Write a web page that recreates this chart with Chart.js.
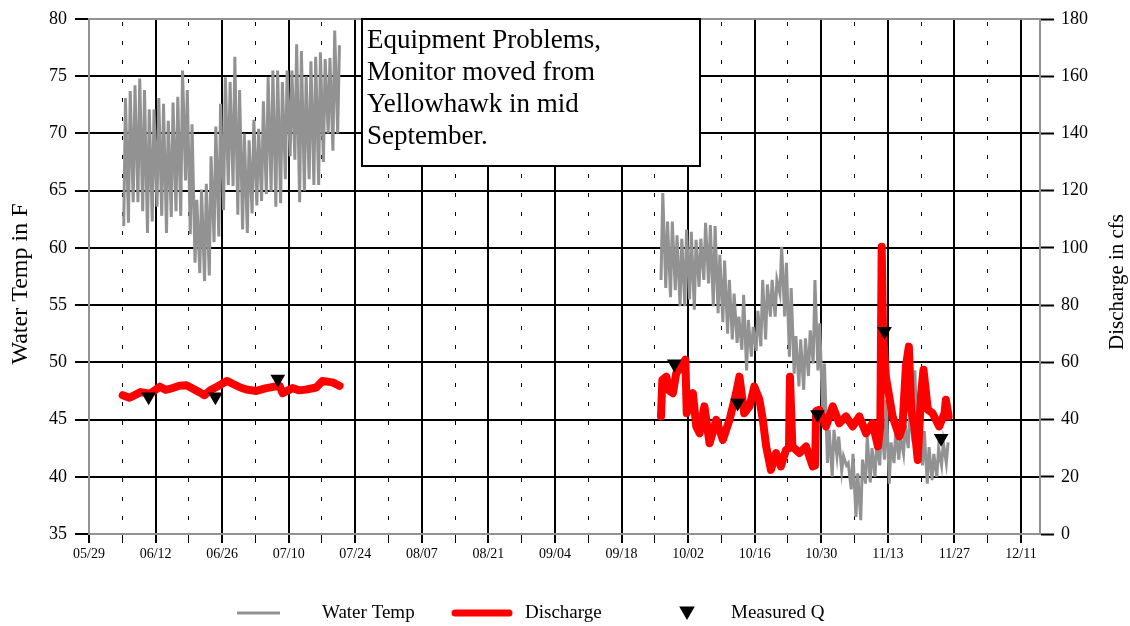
<!DOCTYPE html>
<html>
<head>
<meta charset="utf-8">
<script src="https://cdn.jsdelivr.net/npm/chart.js@4.4.0/dist/chart.umd.min.js"></script>
<style>
  html, body { margin: 0; padding: 0; background: #fff; }
</style>
</head>
<body>
<canvas id="myChart" width="1130" height="626"></canvas>
<script>
// x axis: labelled every 14 days, dotted line half way between
const xTickLabels = ['05/29', '06/12', '06/26', '07/10', '07/24', '08/07', '08/21', '09/04', '09/18', '10/02', '10/16', '10/30', '11/13', '11/27', '12/11'];
const xAxisEnd = '12/15';

// water temp (F), daily low / high
const tempStart1 = '06/05';
const tempHigh1 = [73.1, 73.7, 74.2, 74.8, 73.8, 72.1, 72.1, 73.1, 72.6, 71.1, 72.7, 73.2, 75.5, 73.8, 70.8, 64.2, 65.1, 65.6, 68.0, 70.6, 72.6, 74.9, 74.5, 76.7, 73.8, 70.0, 69.4, 71.2, 70.4, 72.8, 74.9, 75.5, 75.5, 74.5, 75.5, 75.5, 77.8, 77.2, 75.0, 76.3, 76.7, 77.1, 76.5, 76.6, 79.0, 77.7];
const tempLow1 = [61.9, 62.2, 64.0, 64.0, 63.2, 61.3, 62.3, 63.6, 62.8, 61.3, 62.7, 63.2, 62.8, 65.9, 61.2, 58.7, 57.8, 57.1, 57.6, 60.5, 61.0, 63.3, 65.5, 65.4, 62.9, 61.6, 61.3, 63.0, 63.7, 64.1, 64.7, 64.9, 63.6, 63.9, 66.0, 68.0, 67.7, 64.0, 65.0, 66.0, 65.5, 65.5, 67.5, 70.0, 68.5, 70.0];

const tempStart2 = '09/26';
const tempHigh2 = [64.8, 62.3, 62.3, 61.1, 60.8,
  61.6, 61.4, 60.7, 60.8, 62.2, 62.0, 61.9, 59.4, 58.9, 57.2, 56.0, 54.0, 55.9, 53.7, 53.1, 54.5, 57.2, 56.8, 57.2, 57.2, 60.1, 58.7, 56.5, 52.3, 52.0, 52.1, 52.8, 57.2, 53.4, 49.9, 44.1,
  44.1, 43.5, 41.8, 41.2, 42.0, 40.3, 41.5, 43.5, 42.5, 43.0, 44.5, 46.7, 43.0, 44.0, 43.5, 44.5, 46.0, 49.3, 45.0, 44.0, 42.6, 42.0, 42.5, 43.0, 43.0];
const tempLow2 = [57.2, 56.5, 55.7, 56.3, 54.9,
  54.9, 55.5, 54.6, 56.6, 57.2, 56.9, 54.9, 54.3, 53.5, 52.5, 52.0, 51.7, 51.1, 49.3, 50.5, 51.0, 51.4, 52.0, 54.0, 54.0, 56.0, 54.0, 50.5, 49.0, 47.9, 47.6, 48.8, 49.9, 49.3, 45.6, 41.2,
  40.0, 41.8, 40.5, 41.0, 38.9, 36.5, 36.2, 39.4, 39.5, 40.0, 41.0, 41.5, 39.4, 41.2, 41.5, 42.0, 42.5, 43.0, 41.6, 41.0, 39.4, 39.7, 40.0, 41.0, 41.2];

// discharge (cfs), 'MM/DD HH'
const dischargeDates1 = ['06/05 02', '06/06 12', '06/07 05', '06/08 20', '06/10 19', '06/12 22', '06/14 02', '06/15 14', '06/17 00', '06/18 12', '06/21 07', '06/22 07', '06/23 12', '06/24 22', '06/27 00', '06/28 05', '06/29 20', '07/01 02', '07/03 05', '07/05 07', '07/08 02', '07/08 17', '07/10 19', '07/12 04', '07/13 17', '07/15 19', '07/17 02', '07/19 05', '07/20 17'];
const dischargeCfs1 = [48.5, 47.6, 48.2, 49.6, 49, 51.5, 50.4, 51, 51.8, 52, 49.5, 48.5, 50.2, 51.5, 53.5, 52.5, 51.2, 50.5, 50, 51, 51.8, 49.2, 51, 50.2, 50.5, 51.2, 53.5, 53, 51.8];

const dischargeDates2 = ['09/26 07', '09/26 14', '09/27 10', '09/28 02', '09/28 19', '09/29 12', '09/30 12', '10/01 10', '10/01 17', '10/02 07', '10/03 00', '10/03 17', '10/04 10', '10/05 10', '10/06 12', '10/07 22', '10/09 07', '10/10 17', '10/12 02', '10/12 19', '10/13 19', '10/14 22', '10/15 22', '10/17 00', '10/17 17', '10/18 10', '10/19 10', '10/20 12', '10/21 12', '10/22 14', '10/23 05', '10/23 10', '10/23 22', '10/25 10', '10/26 19', '10/28 05', '10/28 17', '10/28 22', '10/29 14', '10/31 00', '11/01 10', '11/02 19', '11/04 05', '11/05 14', '11/07 00', '11/08 10', '11/09 19', '11/10 22', '11/11 10', '11/11 17', '11/12 00', '11/12 14', '11/14 00', '11/15 10', '11/16 02', '11/16 19', '11/17 10', '11/17 22', '11/18 14', '11/19 07', '11/20 00', '11/20 12', '11/21 10', '11/22 10', '11/23 19', '11/24 22', '11/25 05', '11/25 19'];
const dischargeCfs2 = [41.1, 53.9, 55, 50, 49.2, 56.2, 58.5, 60.9, 42.2, 47, 49.2, 37.6, 35.2, 44.6, 31.7, 39.9, 32.9, 39.9, 49.2, 55, 42.2, 44.6, 51.5, 46.9, 39.9, 30.6, 22.4, 28.3, 23.6, 29.4, 30, 55, 30.6, 28.3, 30.6, 23.6, 24, 43, 43.4, 37.6, 44.6, 38.7, 41.1, 37.6, 41.1, 35.2, 38.7, 30.6, 37.6, 100.4, 70.2, 55, 41.1, 34.1, 37.6, 58.5, 65.5, 43.4, 37.6, 25.9, 49.2, 57.4, 43.4, 42.2, 37.6, 42.2, 46.9, 41.1];

// measured Q (cfs)
const measuredDates = ['06/10 13', '06/24 14', '07/07 17', '09/29 02', '10/12 10', '10/29 05', '11/12 07', '11/24 05'];
const measuredCfs = [48.0, 48.0, 54.2, 59.5, 45.8, 41.8, 70.9, 33.5];

const noteLines = ['Equipment Problems,', 'Monitor moved from', 'Yellowhawk in mid', 'September.'];

const YEAR = 2010;
const FONT = '"Liberation Serif", "Times New Roman", serif';
const GRAY = '#929292';

function dayOf(s) {
    const parts = s.split(' ');
    const md = parts[0].split('/').map(Number);
    const h = parts[1] ? Number(parts[1]) : 0;
    return (Date.UTC(YEAR, md[0] - 1, md[1], h) - Date.UTC(YEAR, 4, 29)) / 86400000;
}

function dailyCycle(start, lows, highs) {
    const d0 = dayOf(start);
    const pts = [];
    for (let i = 0; i < lows.length; i++) {
        pts.push({ x: d0 + i + 0.3, y: lows[i] });
        pts.push({ x: d0 + i + 0.67, y: highs[i] });
    }
    return pts;
}

function pairs(dates, vals) {
    return dates.map((d, i) => ({ x: dayOf(d), y: vals[i] }));
}

const gap = { x: dayOf('08/20'), y: null };
const tempData = dailyCycle(tempStart1, tempLow1, tempHigh1).concat([gap], dailyCycle(tempStart2, tempLow2, tempHigh2));
const dischargeData = pairs(dischargeDates1, dischargeCfs1).concat([gap], pairs(dischargeDates2, dischargeCfs2));
const measuredData = pairs(measuredDates, measuredCfs);

const xMax = dayOf(xAxisEnd);
const labelAt = {};
xTickLabels.forEach(l => { labelAt[dayOf(l)] = l; });
const gridDays = [];
xTickLabels.forEach(l => {
    gridDays.push(dayOf(l));
    if (dayOf(l) + 7 <= xMax) gridDays.push(dayOf(l) + 7);
});
const isMajor = v => labelAt[v] !== undefined;

const overlay = {
    id: 'overlay',
    afterDraw(chart) {
        const ctx = chart.ctx;
        ctx.save();

        // note box
        ctx.fillStyle = '#fff';
        ctx.fillRect(362, 19, 338, 147);
        ctx.lineWidth = 2;
        ctx.strokeStyle = '#000';
        ctx.strokeRect(362, 19, 338, 147);
        ctx.fillStyle = '#000';
        ctx.font = '27px ' + FONT;
        ctx.textAlign = 'left';
        ctx.textBaseline = 'alphabetic';
        noteLines.forEach((t, i) => ctx.fillText(t, 367, 48 + i * 32));

        // axis titles, both read bottom to top
        ctx.textAlign = 'center';
        ctx.textBaseline = 'middle';
        ctx.save();
        ctx.font = '24px ' + FONT;
        ctx.translate(21, 284);
        ctx.rotate(-Math.PI / 2);
        ctx.fillText('Water Temp in F', 0, 0);
        ctx.restore();
        ctx.save();
        ctx.font = '21px ' + FONT;
        ctx.translate(1117, 282);
        ctx.rotate(-Math.PI / 2);
        ctx.fillText('Discharge in cfs', 0, 0);
        ctx.restore();

        // legend
        const ly = 613;
        ctx.lineCap = 'butt';
        ctx.strokeStyle = GRAY;
        ctx.lineWidth = 3;
        ctx.beginPath(); ctx.moveTo(237, ly); ctx.lineTo(280, ly); ctx.stroke();
        ctx.strokeStyle = '#ff0000';
        ctx.lineWidth = 7;
        ctx.lineCap = 'round';
        ctx.beginPath(); ctx.moveTo(455, ly); ctx.lineTo(509, ly); ctx.stroke();
        ctx.fillStyle = '#000';
        Chart.helpers.drawPoint(ctx, { pointStyle: 'triangle', rotation: 180, radius: 9, borderWidth: 0 }, 687, ly - 2);
        ctx.font = '19px ' + FONT;
        ctx.textAlign = 'left';
        ctx.fillText('Water Temp', 322, ly);
        ctx.fillText('Discharge', 525, ly);
        ctx.fillText('Measured Q', 731, ly);
        ctx.restore();
    }
};

new Chart('myChart', {
    type: 'line',
    data: {
        datasets: [{
            label: 'Water Temp',
            data: tempData,
            yAxisID: 'y',
            borderColor: GRAY,
            borderWidth: 3,
            pointRadius: 0,
            tension: 0,
            order: 3
        }, {
            label: 'Discharge',
            data: dischargeData,
            yAxisID: 'y2',
            borderColor: '#ff0000',
            borderWidth: 8,
            borderJoinStyle: 'round',
            borderCapStyle: 'round',
            pointRadius: 0,
            tension: 0,
            order: 2
        }, {
            label: 'Measured Q',
            data: measuredData,
            yAxisID: 'y2',
            showLine: false,
            pointStyle: 'triangle',
            rotation: 180,
            pointRadius: 8.5,
            pointBackgroundColor: '#000',
            pointBorderColor: '#000',
            pointBorderWidth: 0,
            order: 1
        }]
    },
    options: {
        responsive: false,
        animation: false,
        devicePixelRatio: 1,
        layout: { padding: { top: 19, left: 0, right: 0, bottom: 0 } },
        plugins: { legend: { display: false }, tooltip: { enabled: false } },
        scales: {
            x: {
                type: 'linear',
                min: 0,
                max: xMax,
                afterBuildTicks: s => { s.ticks = gridDays.map(v => ({ value: v })); },
                afterFit: s => { s.height = 92; },
                ticks: {
                    autoSkip: false,
                    maxRotation: 0,
                    padding: 3,
                    color: '#000',
                    font: { family: FONT, size: 14 },
                    callback: v => labelAt[v] || ''
                },
                grid: {
                    color: c => (c.tick && c.tick.value === 0) ? GRAY : '#000',
                    lineWidth: c => (c.tick && isMajor(c.tick.value)) ? 2 : 1,
                    tickLength: 9,
                    tickColor: '#000',
                    tickWidth: c => (c.tick && isMajor(c.tick.value)) ? 2 : 1
                },
                border: {
                    color: GRAY,
                    width: 2,
                    dash: c => (c.tick && !isMajor(c.tick.value)) ? [4, 15] : [],
                    dashOffset: 16
                }
            },
            y: {
                position: 'left',
                min: 35,
                max: 80,
                afterFit: s => { s.width = 89; },
                ticks: { stepSize: 5, padding: 8, color: '#000', font: { family: FONT, size: 18 } },
                grid: {
                    color: c => (c.tick && (c.tick.value === 35 || c.tick.value === 80)) ? GRAY : '#000',
                    lineWidth: 2,
                    tickLength: 14,
                    tickColor: '#000',
                    tickWidth: 2
                },
                border: { color: GRAY, width: 2 }
            },
            y2: {
                position: 'right',
                min: 0,
                max: 180,
                afterFit: s => { s.width = 90; },
                ticks: { stepSize: 20, padding: 7, color: '#000', font: { family: FONT, size: 18 } },
                grid: { drawOnChartArea: false, tickLength: 14, tickColor: '#000', tickWidth: 2 },
                border: { color: GRAY, width: 2 }
            }
        }
    },
    plugins: [overlay]
});
</script>
</body>
</html>
